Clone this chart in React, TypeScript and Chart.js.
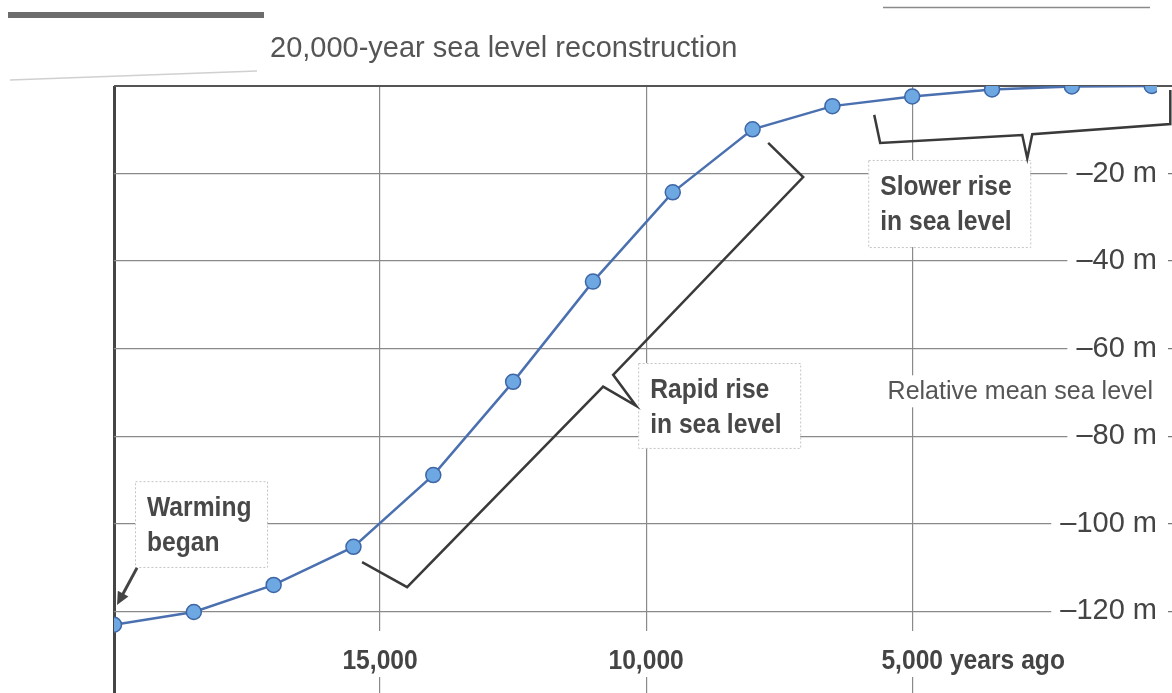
import React, { useEffect, useRef } from "react";
import { Chart, registerables } from "chart.js";

Chart.register(...registerables);

// ---------- data ----------
const yearsAgo = [20000, 18500, 17000, 15500, 14000, 12500, 11000, 9500, 8000, 6500, 5000, 3500, 2000, 500];
const seaLevel = [-123.1, -120.2, -114.0, -105.3, -88.9, -67.6, -44.7, -24.3, -9.9, -4.6, -2.4, -0.8, -0.1, 0];

const xTickValues = [20000, 15000, 10000, 5000];
const xTickLabels = ["", "15,000", "10,000", "5,000 years ago"];
const yTickValues = [-120, -100, -80, -60, -40, -20, 0];
const yTickLabels = ["–120 m", "–100 m", "–80 m", "–60 m", "–40 m", "–20 m", ""];

const X_MIN = 400;
const X_MAX = 20000;
const Y_MIN = -138.7;
const Y_MAX = 0;

const chartTitle = "20,000-year sea level reconstruction";
const yAxisCaption = "Relative mean sea level";

// annotation boxes: [leftYear, rightYear, topMetres, bottomMetres]
const warmingBox = [19605, 17124, -90.3, -109.9];
const warmingText = ["Warming", "began"];
const slowerBox = [5827, 2782, -16.9, -36.8];
const slowerText = ["Slower rise", "in sea level"];
const rapidBox = [10150, 7105, -63.3, -82.7];
const rapidText = ["Rapid rise", "in sea level"];

// bracket paths in [year, metres]
const slowerBracket = [
  [5714, -6.6], [5602, -13.0], [2932, -11.2], [2838, -16.5], [2744, -11.0], [150, -8.7], [150, -0.9],
];
const rapidBracket = [
  [7707, -13.0], [7049, -20.8], [10620, -66.0], [10188, -73.1], [10808, -68.7], [14492, -114.5], [15338, -108.8],
];
const warmingArrow = [[19568, -110.1], [19944, -118.6]];

const FAMILY = '"Liberation Sans", Arial, Helvetica, sans-serif';
const CONDENSE = 0.88;

function condensed(ctx: CanvasRenderingContext2D, text: string, x: number, y: number) {
  ctx.save();
  ctx.translate(x, y);
  ctx.scale(CONDENSE, 1);
  ctx.fillText(text, 0, 0);
  ctx.restore();
}

const annotationPlugin = {
  id: "seaLevelAnnotations",
  afterDatasetsDraw(chart: any) {
    const ctx: CanvasRenderingContext2D = chart.ctx;
    const xs = chart.scales.x;
    const ys = chart.scales.y;
    const area = chart.chartArea;
    const px = (v: number) => xs.getPixelForValue(v);
    const py = (v: number) => ys.getPixelForValue(v);

    ctx.save();

    // decorative rules at top
    ctx.fillStyle = "#6c6c6c";
    ctx.fillRect(8, 12, 256, 6);
    ctx.strokeStyle = "rgba(150,150,150,0.45)";
    ctx.lineWidth = 1.5;
    ctx.beginPath();
    ctx.moveTo(10, 80);
    ctx.lineTo(257, 71);
    ctx.stroke();
    ctx.strokeStyle = "#8a8a8a";
    ctx.lineWidth = 1.5;
    ctx.beginPath();
    ctx.moveTo(883, 7.5);
    ctx.lineTo(1150, 7.5);
    ctx.stroke();

    // title
    ctx.fillStyle = "#555";
    ctx.font = `29px ${FAMILY}`;
    ctx.textBaseline = "alphabetic";
    ctx.textAlign = "left";
    ctx.fillText(chartTitle, 270, 57);

    // x tick labels (inside plot, bold condensed)
    ctx.font = `bold 28px ${FAMILY}`;
    const base = area.bottom - 24;
    xTickValues.forEach((v, i) => {
      const label = xTickLabels[i];
      if (!label) return;
      const sp = label.indexOf(" ");
      const num = sp >= 0 ? label.slice(0, sp) : label;
      const wNum = ctx.measureText(num).width * CONDENSE;
      const wAll = ctx.measureText(label).width * CONDENSE;
      const x0 = px(v) - wNum / 2;
      ctx.fillStyle = "#fff";
      ctx.fillRect(x0 - 4, base - 38, wAll + 8, 46);
      ctx.fillStyle = "#444";
      condensed(ctx, label, x0, base);
    });

    // y caption
    ctx.font = `25px ${FAMILY}`;
    const capY = (py(-60) + py(-80)) / 2 + 7;
    const capW = ctx.measureText(yAxisCaption).width;
    const capR = area.right - 4;
    ctx.fillStyle = "#fff";
    ctx.fillRect(capR - capW - 4, capY - 24, capW + 8, 32);
    ctx.fillStyle = "#555";
    ctx.textAlign = "right";
    ctx.fillText(yAxisCaption, capR, capY);
    ctx.textAlign = "left";

    // boxes
    const drawBox = (b: number[], lines: string[]) => {
      const l = px(b[0]);
      const r = px(b[1]);
      const t = py(b[2]);
      const bt = py(b[3]);
      ctx.fillStyle = "#fff";
      ctx.fillRect(l, t, r - l, bt - t);
      ctx.strokeStyle = "#c4c4c4";
      ctx.lineWidth = 1;
      ctx.setLineDash([2, 2]);
      ctx.strokeRect(l + 0.5, t + 0.5, r - l, bt - t);
      ctx.setLineDash([]);
      ctx.fillStyle = "#484848";
      ctx.font = `bold 28px ${FAMILY}`;
      lines.forEach((s, i) => condensed(ctx, s, l + 12, t + 35 + i * 35));
    };
    drawBox(warmingBox, warmingText);
    drawBox(slowerBox, slowerText);
    drawBox(rapidBox, rapidText);

    // brackets
    const drawPath = (pts: number[][]) => {
      ctx.beginPath();
      pts.forEach((p, i) => {
        const X = px(p[0]);
        const Y = py(p[1]);
        if (i === 0) ctx.moveTo(X, Y);
        else ctx.lineTo(X, Y);
      });
      ctx.stroke();
    };
    ctx.strokeStyle = "#3a3a3a";
    ctx.lineWidth = 2.5;
    ctx.lineJoin = "miter";
    drawPath(slowerBracket);
    drawPath(rapidBracket);

    // arrow
    const ax0 = px(warmingArrow[0][0]);
    const ay0 = py(warmingArrow[0][1]);
    const ax1 = px(warmingArrow[1][0]);
    const ay1 = py(warmingArrow[1][1]);
    const ang = Math.atan2(ay1 - ay0, ax1 - ax0);
    ctx.strokeStyle = "#444";
    ctx.fillStyle = "#444";
    ctx.lineWidth = 3;
    ctx.beginPath();
    ctx.moveTo(ax0, ay0);
    ctx.lineTo(ax1 - Math.cos(ang) * 8, ay1 - Math.sin(ang) * 8);
    ctx.stroke();
    ctx.beginPath();
    ctx.moveTo(ax1, ay1);
    ctx.lineTo(ax1 - Math.cos(ang) * 13 + Math.sin(ang) * 6, ay1 - Math.sin(ang) * 13 - Math.cos(ang) * 6);
    ctx.lineTo(ax1 - Math.cos(ang) * 13 - Math.sin(ang) * 6, ay1 - Math.sin(ang) * 13 + Math.cos(ang) * 6);
    ctx.closePath();
    ctx.fill();

    ctx.restore();
  },
};

export default function App() {
  const ref = useRef<HTMLCanvasElement>(null);

  useEffect(() => {
    const canvas = ref.current;
    if (!canvas) return;
    const chart = new Chart(canvas, {
      type: "line",
      data: {
        datasets: [
          {
            label: "Relative mean sea level",
            data: yearsAgo.map((x, i) => ({ x, y: seaLevel[i] })),
            borderColor: "#4a70b0",
            borderWidth: 2.5,
            tension: 0,
            pointRadius: 7.5,
            pointBackgroundColor: "#6ea8e2",
            pointBorderColor: "#3e66a6",
            pointBorderWidth: 1.5,
            fill: false,
          },
        ],
      },
      options: {
        animation: false,
        responsive: false,
        devicePixelRatio: 1,
        layout: { autoPadding: false, padding: { left: 114, top: 86, right: 0, bottom: 0 } },
        plugins: {
          legend: { display: false },
          tooltip: { enabled: false },
          title: { display: false },
        },
        scales: {
          x: {
            type: "linear",
            reverse: true,
            min: X_MIN,
            max: X_MAX,
            position: "bottom",
            afterBuildTicks: (s: any) => {
              s.ticks = xTickValues.map((v) => ({ value: v }));
            },
            afterFit: (s: any) => {
              s.paddingLeft = 0;
              s.paddingRight = 0;
              s.height = 0;
            },
            border: { display: false },
            grid: {
              drawTicks: false,
              color: (c: any) => (c.tick && c.tick.value === 20000 ? "#454545" : "#8a8a8a"),
              lineWidth: (c: any) => (c.tick && c.tick.value === 20000 ? 3 : 1.2),
            },
            ticks: { display: false },
          },
          y: {
            type: "linear",
            position: "right",
            min: Y_MIN,
            max: Y_MAX,
            afterBuildTicks: (s: any) => {
              s.ticks = yTickValues.map((v) => ({ value: v }));
            },
            afterFit: (s: any) => {
              s.paddingTop = 0;
              s.paddingBottom = 0;
            },
            border: { display: false },
            grid: {
              drawTicks: true,
              tickLength: 15,
              color: (c: any) => (c.tick && c.tick.value === 0 ? "#555" : "#8a8a8a"),
              lineWidth: (c: any) => (c.tick && c.tick.value === 0 ? 2 : 1.2),
              tickColor: (c: any) => (c.tick && c.tick.value === 0 ? "#555" : "#777"),
              tickWidth: (c: any) => (c.tick && c.tick.value === 0 ? 2 : 1.2),
              tickBorderDash: (c: any) => (c.tick && c.tick.value === 0 ? [] : [0, 11, 4, 0]),
            },
            ticks: {
              mirror: true,
              padding: 0,
              color: "#444",
              font: { family: FAMILY, size: 29 },
              callback: (v: any) => {
                const i = yTickValues.indexOf(Number(v));
                return i >= 0 ? yTickLabels[i] : "";
              },
              showLabelBackdrop: true,
              backdropColor: (c: any) => (c.tick && c.tick.value === 0 ? "rgba(0,0,0,0)" : "#ffffff"),
              backdropPadding: { left: 9, right: 1, top: 3, bottom: 3 },
            },
          },
        },
      },
      plugins: [annotationPlugin],
    } as any);
    return () => chart.destroy();
  }, []);

  return (
    <div style={{ position: "fixed", left: 0, top: 0, width: 1172, height: 693, background: "#fff" }}>
      <canvas ref={ref} width={1172} height={693} style={{ display: "block" }} />
    </div>
  );
}
